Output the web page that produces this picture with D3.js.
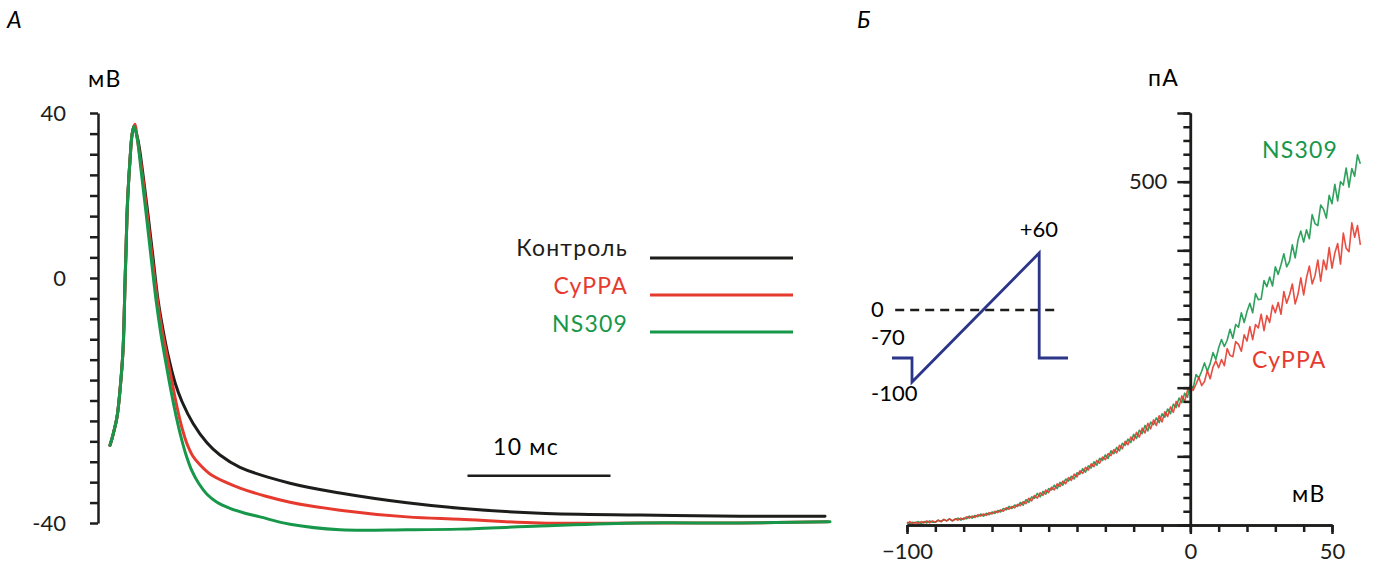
<!DOCTYPE html>
<html>
<head>
<meta charset="utf-8">
<script src="https://cdn.jsdelivr.net/npm/d3@7"></script>
<style>
  body { margin: 0; background: #fff; }
  svg text { font-family: Lato, "Open Sans", sans-serif; }
  .lbl { font-size: 23px; letter-spacing: 1.2px; }
</style>
</head>
<body>
<svg id="chart" width="1373" height="565"></svg>
<script>
// ---------- Panel A: action potentials (ms, mV) ----------
const riseT = [0, 0.21, 0.49, 0.70, 0.91, 1.05, 1.12, 1.19, 1.26, 1.40, 1.54, 1.68];
const riseV = [-27.3, -25.6, -22.7, -18.3, -11.8, -0.8, 6.8, 15.3, 20.8, 28.7, 34.7, 36.8];

const controlT = [1.96, 2.31, 2.66, 3.01, 3.36, 3.71, 4.06, 4.55, 5.04, 5.80, 6.78, 7.69, 9.09, 12.59, 16.08, 20.77, 24.48, 30.07, 37.06, 44.06, 50.0];
const controlV = [33.4, 25.0, 15.3, 4.9, -3.6, -8.5, -12.6, -17.1, -20.2, -23.7, -26.9, -28.9, -30.9, -33.5, -35.1, -36.7, -37.6, -38.4, -38.7, -38.9, -38.9];

const cyppaT = [1.75, 1.89, 2.24, 2.59, 2.94, 3.29, 3.64, 3.99, 4.34, 4.69, 5.04, 5.39, 5.80, 6.29, 6.99, 8.04, 9.09, 10.84, 12.59, 16.08, 20.77, 24.48, 30.07, 37.06, 44.06, 50.2];
const cyppaV = [37.3, 34.2, 25.7, 15.8, 5.3, -3.1, -8.5, -12.7, -17.0, -21.1, -24.5, -27.1, -29.1, -30.5, -32.0, -33.3, -34.3, -35.6, -36.6, -37.9, -39.0, -39.4, -40.0, -40.0, -40.0, -39.8];

const ns309T = [1.89, 2.17, 2.52, 2.87, 3.22, 3.57, 3.92, 4.27, 4.62, 4.97, 5.32, 5.73, 6.22, 6.78, 7.48, 8.39, 9.44, 10.49, 12.59, 16.08, 20.77, 24.48, 30.07, 37.06, 44.06, 50.35];
const ns309V = [34.2, 26.2, 15.8, 5.1, -3.6, -9.3, -14.0, -18.5, -22.5, -26.0, -28.9, -31.5, -33.6, -35.3, -36.6, -37.6, -38.4, -39.0, -40.2, -41.1, -41.1, -41.0, -40.5, -40.0, -40.0, -39.8];

const legendNames = ["Контроль", "CyPPA", "NS309"];
const yTickLabelsA = [40, 0, -40];
const scaleBarMs = 10;

// ---------- Panel B: I-V curves (mV, pA), one point per mV ----------
const ivVoltage = d3.range(-100, 61, 1);
const ivNS309 = [
  4, 2, 4, 3, 5, 2, 5, 3, 6, 4, 4, 7, 5, 8, 6, 9, 6, 8, 10, 7,
  10, 9, 13, 10, 14, 12, 16, 13, 17, 15, 19, 17, 21, 19, 24, 22, 27, 24, 29, 27,
  33, 29, 37, 33, 41, 39, 46, 41, 49, 45, 53, 51, 58, 53, 62, 58, 67, 64, 71, 67,
  76, 74, 82, 77, 86, 83, 92, 87, 97, 94, 102, 97, 108, 104, 113, 108, 119, 116, 125, 120,
  132, 126, 138, 133, 145, 137, 150, 146, 156, 149, 162, 157, 169, 162, 176, 171, 185, 178, 192, 186,
  204, 199, 219, 214, 224, 236, 224, 235, 251, 241, 258, 270, 260, 269, 285, 272, 292, 288, 309, 295,
  311, 323, 309, 337, 328, 329, 356, 347, 361, 348, 376, 365, 379, 395, 376, 384, 408, 389, 415, 428,
  412, 430, 417, 452, 439, 436, 466, 460, 447, 480, 468, 496, 472, 500, 495, 520, 492, 519, 508, 539,
  526];
const ivCyPPA = [
  2, 5, 2, 4, 2, 5, 3, 6, 3, 6, 4, 7, 5, 8, 6, 9, 6, 9, 7, 10,
  8, 12, 10, 13, 11, 15, 13, 16, 14, 18, 16, 20, 18, 22, 20, 25, 23, 27, 25, 30,
  28, 34, 31, 39, 35, 43, 39, 47, 43, 51, 47, 55, 51, 60, 56, 64, 60, 69, 65, 74,
  70, 79, 75, 84, 80, 89, 85, 94, 90, 99, 95, 104, 101, 110, 105, 116, 111, 122, 117, 128,
  123, 135, 128, 141, 134, 148, 140, 153, 145, 159, 150, 165, 158, 172, 164, 180, 172, 188, 180, 196,
  201, 196, 205, 215, 203, 209, 225, 213, 230, 239, 229, 241, 232, 257, 247, 245, 267, 263, 253, 277,
  268, 289, 270, 292, 287, 307, 283, 305, 295, 320, 309, 324, 307, 340, 323, 335, 351, 322, 336, 360,
  335, 360, 377, 351, 363, 386, 355, 386, 372, 404, 374, 396, 410, 380, 425, 403, 398, 440, 419, 436,
  408];

// inset: voltage-ramp protocol (ms, mV)
const protoT = [0, 25, 25, 184, 184, 220];
const protoV = [-70, -70, -100, 60, -70, -70];
const protoLabels = ["0", "-70", "-100", "+60"];

const COLORS = {control: "#1d1d1b", cyppa: "#e63a2e", ns309: "#17974a", proto: "#2b3589"};
const FONT = 22;

const svg = d3.select("#chart");

// ===== Panel A =====
const xA = d3.scaleLinear().domain([0, 50]).range([110, 825]);
const yA = d3.scaleLinear().domain([-40, 0, 40]).range([523, 278, 113]);

const tickValsA = d3.range(0, 9).map(k => k * 5)
  .concat(d3.range(1, 13).map(k => -(k * 40) / 12));

const axisA = svg.append("g")
  .attr("transform", "translate(98,0)")
  .call(d3.axisLeft(yA).tickValues(tickValsA).tickSize(8).tickSizeOuter(0).tickPadding(24)
    .tickFormat(d => yTickLabelsA.includes(d) ? d : ""));
axisA.select(".domain").attr("stroke", "#1d1d1b").attr("stroke-width", 2.5);
axisA.selectAll(".tick line").attr("stroke", "#1d1d1b").attr("stroke-width", 2.5);
axisA.selectAll(".tick text").attr("font-size", FONT).attr("font-family", null).attr("fill", "#1d1d1b");

svg.append("text").attr("class", "lbl").attr("x", 88).attr("y", 87).text("мВ");
svg.append("text").attr("class", "lbl").attr("x", 7).attr("y", 28).attr("font-style", "italic").text("А");

const lineA = d3.line().x(d => xA(d[0])).y(d => yA(d[1])).curve(d3.curveCatmullRom.alpha(0.5));
const zipAP = (T, V) => riseT.map((t, i) => [t, riseV[i]]).concat(T.map((t, i) => [t, V[i]]));

const apSeries = [
  {name: legendNames[0], color: COLORS.control, pts: zipAP(controlT, controlV)},
  {name: legendNames[1], color: COLORS.cyppa, pts: zipAP(cyppaT, cyppaV)},
  {name: legendNames[2], color: COLORS.ns309, pts: zipAP(ns309T, ns309V)}
];

svg.append("g").selectAll("path")
  .data(apSeries)
  .join("path")
  .attr("d", d => lineA(d.pts))
  .attr("fill", "none")
  .attr("stroke", d => d.color)
  .attr("stroke-width", 3)
  .attr("stroke-linejoin", "round")
  .attr("stroke-linecap", "round");

// legend
const legend = svg.append("g").attr("class", "legend");
const legendY = [256, 294, 332];
const legendLineY = [258, 295, 332];
apSeries.forEach((s, i) => {
  legend.append("text")
    .attr("class", "lbl")
    .attr("x", 628).attr("y", legendY[i])
    .attr("text-anchor", "end")
    .attr("fill", i === 0 ? "#1d1d1b" : s.color)
    .text(s.name);
  legend.append("line")
    .attr("x1", 650).attr("x2", 793)
    .attr("y1", legendLineY[i]).attr("y2", legendLineY[i])
    .attr("stroke", s.color).attr("stroke-width", 3);
});

// scale bar
const barStart = 25, barV = -32.3;
svg.append("line")
  .attr("x1", xA(barStart)).attr("x2", xA(barStart + scaleBarMs))
  .attr("y1", yA(barV)).attr("y2", yA(barV))
  .attr("stroke", "#1d1d1b").attr("stroke-width", 2.5);
svg.append("text")
  .attr("class", "lbl")
  .attr("x", xA(barStart + scaleBarMs / 2) - 13).attr("y", yA(barV) - 21)
  .attr("text-anchor", "middle")
  .text(`${scaleBarMs} мс`);

// ===== Panel B =====
const xB = d3.scaleLinear().domain([-100, 50]).range([907, 1332]);
const yB = d3.scaleLinear().domain([0, 600]).range([525, 113]);

svg.append("text").attr("class", "lbl").attr("x", 857).attr("y", 28).attr("font-style", "italic").text("Б");

const lineB = d3.line().x(d => xB(d[0])).y(d => yB(d[1]));
const ivSeries = [
  {color: COLORS.ns309, vals: ivNS309},
  {color: COLORS.cyppa, vals: ivCyPPA}
];
svg.append("g").selectAll("path")
  .data(ivSeries)
  .join("path")
  .attr("d", d => lineB(ivVoltage.map((v, i) => [v, d.vals[i]])))
  .attr("fill", "none")
  .attr("stroke", d => d.color)
  .attr("stroke-width", 1.6)
  .attr("stroke-linejoin", "round")
  .attr("opacity", 0.9);

// axes (minor + major ticks)
const styleAxis = g => {
  g.select(".domain").attr("stroke", "#1d1d1b").attr("stroke-width", 2.5);
  g.selectAll(".tick line").attr("stroke", "#1d1d1b").attr("stroke-width", 2.5);
  g.selectAll(".tick text").attr("font-size", FONT).attr("font-family", null).attr("fill", "#1d1d1b");
};
svg.append("g").attr("transform", `translate(${xB(0)},0)`)
  .call(d3.axisLeft(yB).tickValues(d3.range(0, 601, 20)).tickSize(7).tickSizeOuter(0).tickFormat(""))
  .call(styleAxis);
svg.append("g").attr("transform", `translate(${xB(0)},0)`)
  .call(d3.axisLeft(yB).tickValues(d3.range(0, 601, 100)).tickSize(13).tickSizeOuter(0).tickPadding(10)
    .tickFormat(d => d === 500 ? d : ""))
  .call(styleAxis);

svg.append("g").attr("transform", `translate(0,${yB(0)})`)
  .call(d3.axisBottom(xB).tickValues(d3.range(-100, 51, 10)).tickSize(7).tickSizeOuter(0).tickFormat(""))
  .call(styleAxis);
svg.append("g").attr("transform", `translate(0,${yB(0)})`)
  .call(d3.axisBottom(xB).tickValues([-100, 0, 50]).tickSize(9).tickSizeOuter(0).tickPadding(9))
  .call(styleAxis);

svg.append("text").attr("class", "lbl").attr("x", 1148).attr("y", 86).text("пА");
svg.append("text").attr("class", "lbl").attr("x", 1292).attr("y", 502).text("мВ");
svg.append("text").attr("class", "lbl").attr("x", 1262).attr("y", 158).attr("fill", COLORS.ns309).text("NS309");
svg.append("text").attr("class", "lbl").attr("x", 1252).attr("y", 368).attr("fill", COLORS.cyppa).text("CyPPA");

// inset protocol
const xI = d3.scaleLinear().domain([0, 220]).range([892, 1068]);
const yI = d3.scaleLinear().domain([-100, -70, 0, 60]).range([382, 358, 310, 253]);

svg.append("line")
  .attr("x1", xI(4)).attr("x2", xI(210))
  .attr("y1", yI(0)).attr("y2", yI(0))
  .attr("stroke", "#1d1d1b").attr("stroke-width", 2.5)
  .attr("stroke-dasharray", "9,6");

svg.append("path")
  .attr("d", d3.line().x(d => xI(d[0])).y(d => yI(d[1]))(protoT.map((t, i) => [t, protoV[i]])))
  .attr("fill", "none").attr("stroke", COLORS.proto).attr("stroke-width", 2.8)
  .attr("stroke-linejoin", "miter");

const insetText = (txt, x, y, anchor) => svg.append("text")
  .attr("x", x).attr("y", y).attr("font-size", FONT)
  .attr("text-anchor", anchor || "start").text(txt);
insetText(protoLabels[0], 871, yI(0) + 7);
insetText(protoLabels[1], 871, yI(-70) - 13);
insetText(protoLabels[2], 871, yI(-100) + 19);
insetText(protoLabels[3], 1058, yI(60) - 16, "end");
</script>
</body>
</html>
